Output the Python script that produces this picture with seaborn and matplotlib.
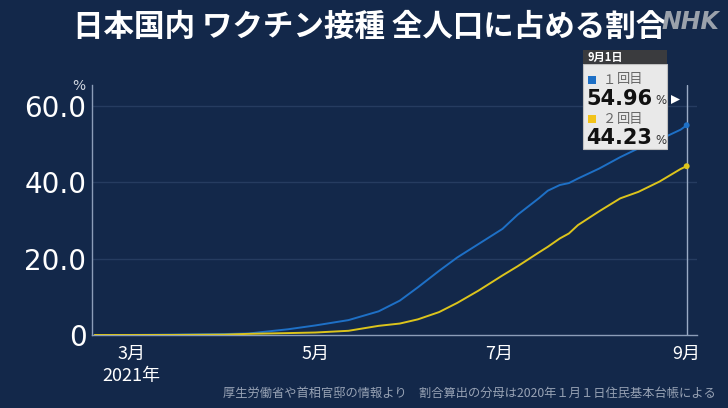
import numpy as np
import pandas as pd
import matplotlib
matplotlib.use("Agg")
import matplotlib.pyplot as plt
import matplotlib.dates as mdates
from matplotlib.patches import Rectangle, Polygon
import seaborn as sns

# ---------------- data ----------------
dates = ["2021-02-17", "2021-03-01", "2021-03-15", "2021-04-01", "2021-04-09",
         "2021-04-22", "2021-05-01", "2021-05-12", "2021-05-22", "2021-05-29",
         "2021-06-04", "2021-06-11", "2021-06-17", "2021-06-24", "2021-07-02",
         "2021-07-07", "2021-07-14", "2021-07-17", "2021-07-21", "2021-07-24",
         "2021-07-27", "2021-08-03", "2021-08-10", "2021-08-16", "2021-08-23",
         "2021-08-30", "2021-09-01"]
dose1 = [0.0, 0.02, 0.1, 0.25, 0.4, 1.5, 2.5, 3.9, 6.2, 9.0, 12.5, 16.8, 20.3,
         23.8, 27.8, 31.5, 35.8, 37.8, 39.3, 39.8, 41.0, 43.6, 46.6, 48.9, 51.2,
         53.8, 54.96]
dose2 = [0.0, 0.0, 0.02, 0.1, 0.3, 0.5, 0.65, 1.1, 2.4, 3.0, 4.1, 6.0, 8.4,
         11.6, 15.6, 18.0, 21.6, 23.1, 25.3, 26.6, 28.8, 32.4, 35.8, 37.5, 40.2,
         43.5, 44.23]
series_names = ["1回目", "2回目"]
tick_dates = ["2021-03-01", "2021-05-01", "2021-07-01", "2021-09-01"]
tick_labels = ["3月\n2021年", "5月", "7月", "9月"]
y_ticks = [0, 20, 40, 60]
y_tick_labels = ["0", "20.0", "40.0", "60.0"]
title = "日本国内 ワクチン接種 全人口に占める割合"
source = "厚生労働省や首相官邸の情報より　割合算出の分母は2020年１月１日住民基本台帳による"
tip_date = "9月1日"
tip_values = ["54.96", "44.23"]

# ---------------- style ----------------
BG = "#13284a"
BLUE = "#1e70c6"
YELLOW = "#dcc41c"
AXC = "#8c9db8"

sns.set_style("dark", {"axes.facecolor": BG, "figure.facecolor": BG})
plt.rcParams["font.family"] = ["Noto Sans CJK JP", "DejaVu Sans"]

df = pd.DataFrame({
    "date": pd.to_datetime(dates * 2),
    "value": dose1 + dose2,
    "series": [series_names[0]] * len(dates) + [series_names[1]] * len(dates),
})

W, H = 728, 408
fig = plt.figure(figsize=(W / 100, H / 100), dpi=100)
fig.patch.set_facecolor(BG)


def fx(x):
    return x / W


def fy(y):
    return 1 - y / H


ax = fig.add_axes([fx(92), fy(335), (697 - 92) / W, (335 - 85) / H])
ax.set_facecolor(BG)

ax.set_xlim(pd.Timestamp("2021-02-16 02:00"), pd.Timestamp("2021-09-04 10:00"))
ax.set_ylim(0, 65.5)

# grid
for yv in y_ticks[1:]:
    ax.axhline(yv, color="#263c60", lw=1, zorder=1)

# vertical marker line at latest date
ax.axvline(pd.Timestamp(dates[-1]), color="#9aabc5", lw=1, zorder=2)

sns.lineplot(data=df, x="date", y="value", hue="series",
             palette={series_names[0]: BLUE, series_names[1]: YELLOW},
             legend=False, ax=ax, linewidth=1.4, zorder=3)
last = df[df["date"] == pd.Timestamp(dates[-1])]
sns.scatterplot(data=last, x="date", y="value", hue="series",
                palette={series_names[0]: BLUE, series_names[1]: YELLOW},
                legend=False, ax=ax, s=18, edgecolor="none", zorder=4)

# axes / spines
for s in ["top", "right"]:
    ax.spines[s].set_visible(False)
ax.spines["left"].set_color(AXC)
ax.spines["bottom"].set_color(AXC)
ax.spines["left"].set_linewidth(1)
ax.spines["bottom"].set_linewidth(1)

ax.set_yticks(y_ticks)
ax.set_yticklabels(y_tick_labels, fontsize=20, color="white",
                   family=["DejaVu Sans"])
ax.tick_params(axis="y", length=0, pad=4)

ax.set_xticks(pd.to_datetime(tick_dates))
ax.set_xticklabels(tick_labels, fontsize=13, color="white", linespacing=1.3)
ax.tick_params(axis="x", length=3, color=AXC, pad=4, direction="out")
ax.set_xlabel("")
ax.set_ylabel("")
ax.grid(False)

# "%" unit
fig.text(fx(79), fy(86), "%", fontsize=10, color="#d0d6e0",
         ha="center", va="center", family=["DejaVu Sans"])

# title and logo
fig.text(fx(370), fy(27), title, fontsize=22, color="white", fontweight="bold",
         ha="center", va="center")
fig.text(fx(690), fy(22), "NHK", fontsize=17, color="#9aa1ab", fontweight="bold",
         style="italic", ha="center", va="center", family=["DejaVu Sans"])

# source
fig.text(fx(716), fy(393), source, fontsize=8.8, color="#98a3b5",
         ha="right", va="center")

# ---------------- tooltip ----------------
bx0, bx1 = 583, 667
hy0, hy1, by1 = 50, 64, 149
fig.patches.append(Rectangle((fx(bx0), fy(by1)), fx(bx1) - fx(bx0), fy(hy1) - fy(by1),
                             transform=fig.transFigure, facecolor="#e9e9e9",
                             edgecolor="#bfbfbf", lw=0.8, zorder=10))
fig.patches.append(Rectangle((fx(bx0), fy(hy1)), fx(bx1) - fx(bx0), fy(hy0) - fy(hy1),
                             transform=fig.transFigure, facecolor="#3a3b3e",
                             edgecolor="none", zorder=11))
fig.text(fx(588), fy(57), tip_date, fontsize=8, color="white", fontweight="bold",
         ha="left", va="center", zorder=12)

for i, (col, name, val) in enumerate(zip([BLUE, "#f2c31a"], series_names, tip_values)):
    oy = i * 39
    fig.patches.append(Rectangle((fx(588), fy(84 + oy)), 8 / W, 8 / H,
                                 transform=fig.transFigure, facecolor=col,
                                 edgecolor="none", zorder=12))
    fig.text(fx(603), fy(80 + oy), "１" if i == 0 else "２", fontsize=9.5,
             color="#666666", ha="left", va="center", zorder=12)
    fig.text(fx(617), fy(80 + oy), "回目", fontsize=9.5, color="#666666",
             ha="left", va="center", zorder=12)
    fig.text(fx(586), fy(99 + oy), val, fontsize=15, color="#111111",
             fontweight="bold", ha="left", va="center", zorder=12,
             family=["DejaVu Sans"])
    fig.text(fx(655), fy(101 + oy), "%", fontsize=8.5, color="#333333",
             ha="left", va="center", zorder=12, family=["DejaVu Sans"])

fig.patches.append(Polygon([[fx(671), fy(95)], [fx(671), fy(104)], [fx(680), fy(99.5)]],
                           closed=True, transform=fig.transFigure,
                           facecolor="white", edgecolor="none", zorder=12))

fig.savefig("out.png", dpi=100, facecolor=BG)
